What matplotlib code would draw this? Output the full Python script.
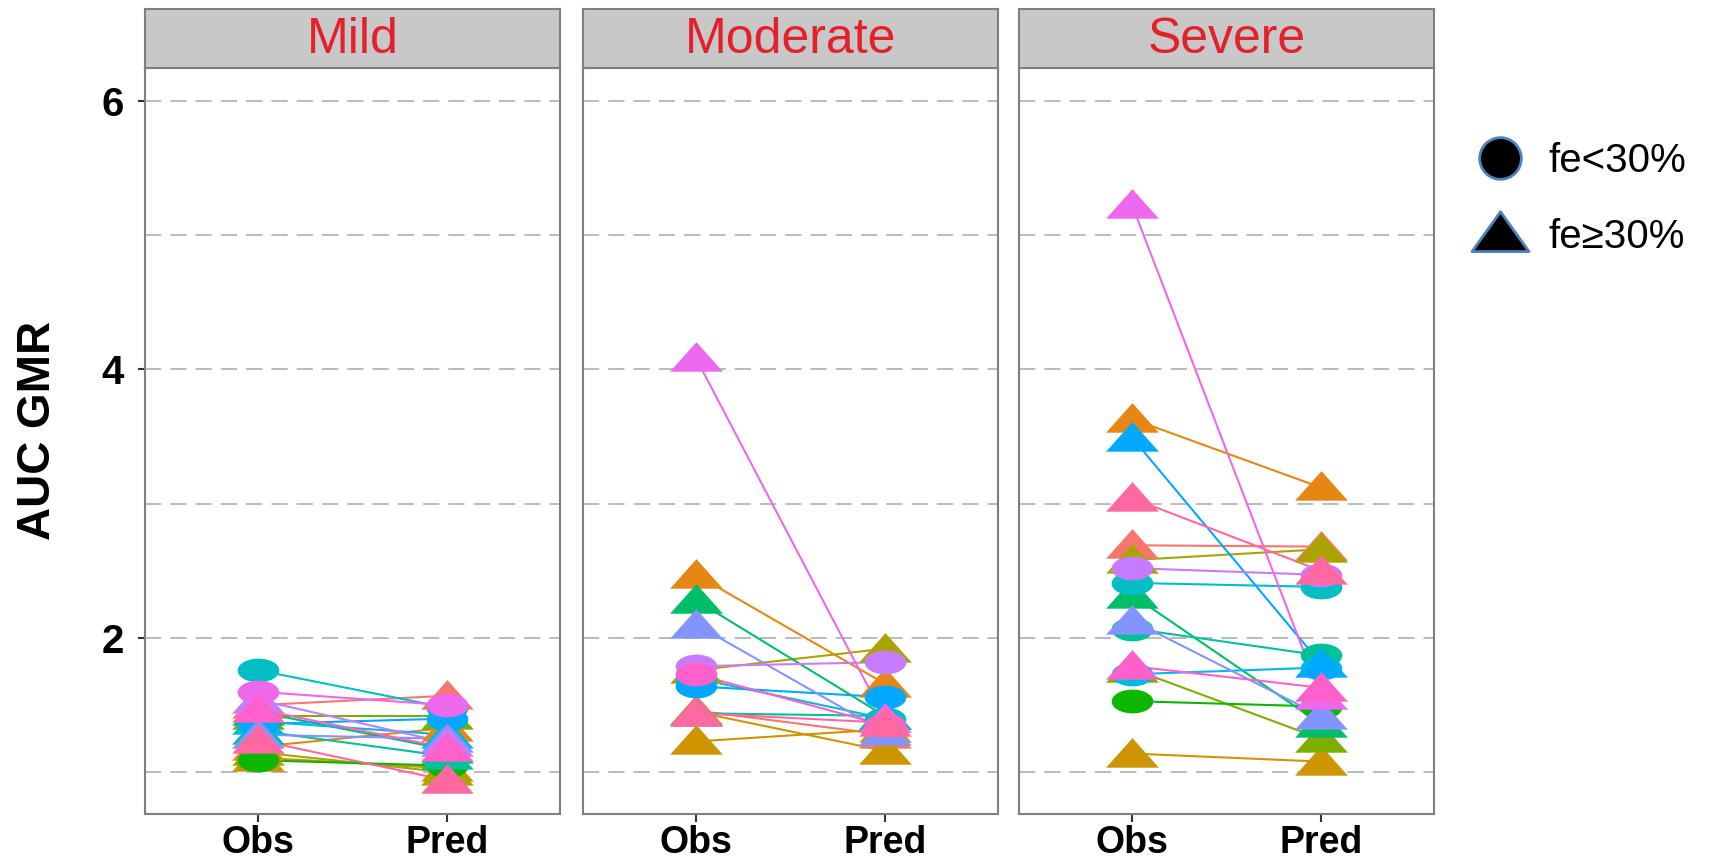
import numpy as np
import matplotlib
matplotlib.use('Agg')
import matplotlib.pyplot as plt
from matplotlib.path import Path
from matplotlib.lines import Line2D

plt.rcParams['font.family'] = ['Liberation Sans', 'DejaVu Sans']

# ggplot default hue palette, 16 drugs
pal = ['#F8766D', '#E68613', '#CD9600', '#ABA300', '#7CAE00', '#0CB702', '#00BE67', '#00C19A',
       '#00BFC4', '#00B8E7', '#00A9FF', '#8494FF', '#C77CFF', '#ED68ED', '#FF61CC', '#FF68A1']

panels = ['Mild', 'Moderate', 'Severe']
xcats = ['Obs', 'Pred']

# fe: 0 -> fe<30% (circle), 1 -> fe>=30% (triangle); col = palette index
mild_obs  = [1.76, 1.60, 1.50, 1.54, 1.47, 1.42, 1.36, 1.45, 1.31, 1.19, 1.24, 1.09, 1.15, 1.11, 1.38, 1.28]
mild_pred = [1.48, 1.50, 1.57, 1.22, 1.18, 1.42, 1.40, 1.17, 1.12, 1.33, 0.94, 1.05, 1.00, 1.03, 1.28, 1.25]
mild_fe   = [0, 0, 1, 1, 1, 1, 0, 1, 1, 1, 1, 0, 1, 1, 1, 1]
mild_col  = [8, 13, 0, 12, 14, 4, 10, 6, 7, 1, 15, 5, 3, 2, 9, 11]

mod_obs  = [4.08, 2.47, 2.28, 2.10, 1.79, 1.73, 1.76, 1.64, 1.70, 1.44, 1.44, 1.23, 1.46, 1.45]
mod_pred = [1.40, 1.66, 1.42, 1.30, 1.82, 1.35, 1.92, 1.56, 1.40, 1.37, 1.42, 1.32, 1.28, 1.16]
mod_fe   = [1, 1, 1, 1, 0, 0, 1, 0, 0, 1, 1, 1, 1, 1]
mod_col  = [13, 1, 6, 11, 12, 14, 3, 10, 8, 15, 7, 2, 0, 2]

sev_obs  = [5.22, 3.63, 3.49, 3.04, 2.69, 2.58, 2.52, 2.41, 2.32, 2.13, 2.07, 1.79, 1.73, 1.53, 1.14, 1.77]
sev_pred = [1.57, 3.12, 1.81, 2.50, 2.68, 2.66, 2.47, 2.38, 1.36, 1.42, 1.87, 1.63, 1.78, 1.49, 1.08, 1.25]
sev_fe   = [1, 1, 1, 1, 1, 1, 0, 0, 1, 1, 0, 1, 0, 0, 1, 1]
sev_col  = [13, 1, 10, 15, 0, 3, 12, 8, 6, 11, 7, 14, 9, 5, 2, 4]

data = [(mild_obs, mild_pred, mild_fe, mild_col),
        (mod_obs, mod_pred, mod_fe, mod_col),
        (sev_obs, sev_pred, sev_fe, sev_col)]

# squashed shapes (the original picture is stretched sideways)
tri = Path([(-1, -0.5), (1, -0.5), (0, 0.62), (-1, -0.5)],
           [Path.MOVETO, Path.LINETO, Path.LINETO, Path.CLOSEPOLY])
t = np.linspace(0, 2 * np.pi, 80)
ell = Path(np.column_stack([np.cos(t), 0.57 * np.sin(t)]))
shapes = [ell, tri]
sizes = [30, 38]

W, H = 1731, 859
fig = plt.figure(figsize=(W / 100, H / 100), dpi=100)
lefts = [145, 583, 1019]
pw = 415
border = '#7f7f7f'
gridc = '#b5b5b5'

for i, name in enumerate(panels):
    obs, pred, fe, col = data[i]
    # draw in drug (palette) order, like ggplot does
    order = np.argsort(col, kind='stable')
    ax = fig.add_axes([lefts[i] / W, 1 - 814 / H, pw / W, (814 - 68) / H])
    for k in order:
        ax.plot([1, 2], [obs[k], pred[k]], color=pal[col[k]], lw=1.5, zorder=2)
    for k in order:
        ax.plot([1, 2], [obs[k], pred[k]], ls='none', marker=shapes[fe[k]], ms=sizes[fe[k]],
                color=pal[col[k]], mew=0, zorder=3)
    ax.set_xlim(0.4, 2.6)
    ax.set_ylim(0.69, 6.242)
    ax.set_xticks([1, 2])
    ax.set_xticklabels(xcats, fontsize=27, fontweight='bold')
    ax.set_yticks([2, 4, 6])
    ax.set_yticks([1, 3, 5], minor=True)
    ax.grid(True, which='both', axis='y', color=gridc, ls=(0, (9, 5)), lw=1.3, zorder=0)
    ax.tick_params(axis='x', length=6, width=1.5, color='#333333', pad=2)
    ax.tick_params(axis='y', which='major', length=5, width=1.5, color='#333333', pad=10,
                   labelsize=29)
    ax.tick_params(axis='y', which='minor', length=0)
    for lab in ax.get_yticklabels():
        lab.set_fontweight('bold')
    if i > 0:
        ax.tick_params(axis='y', which='major', length=0, labelleft=False)
    for s in ax.spines.values():
        s.set_color(border)
        s.set_linewidth(1.5)

    sax = fig.add_axes([lefts[i] / W, 1 - 68 / H, pw / W, 59 / H])
    sax.set_facecolor('#c8c8c8')
    sax.set_xticks([])
    sax.set_yticks([])
    for s in sax.spines.values():
        s.set_color(border)
        s.set_linewidth(1.5)
    sax.text(0.5, 0.47, name, transform=sax.transAxes, ha='center', va='center',
             fontsize=36, color='#e3202b')

fig.text(38 / W, 1 - 430 / H, 'AUC GMR', rotation=90, ha='center', va='center',
         fontsize=33, fontweight='bold')

leg_tri = Path([(-1, -0.6), (1, -0.6), (0, 0.8), (-1, -0.6)],
               [Path.MOVETO, Path.LINETO, Path.LINETO, Path.CLOSEPOLY])
handles = [Line2D([], [], ls='none', marker='o', ms=30, mfc='black', mec='#4f81bd', mew=2),
           Line2D([], [], ls='none', marker=leg_tri, ms=41, mfc='black', mec='#4f81bd', mew=2)]
fig.legend(handles, ['fe<30%', 'fe\u226530%'], loc='upper left',
           bbox_to_anchor=(1452 / W, 1 - 122 / H), frameon=False, fontsize=29,
           handletextpad=0.5, labelspacing=0.95, borderpad=0, handlelength=1.4)

fig.savefig('out.png', dpi=100)
